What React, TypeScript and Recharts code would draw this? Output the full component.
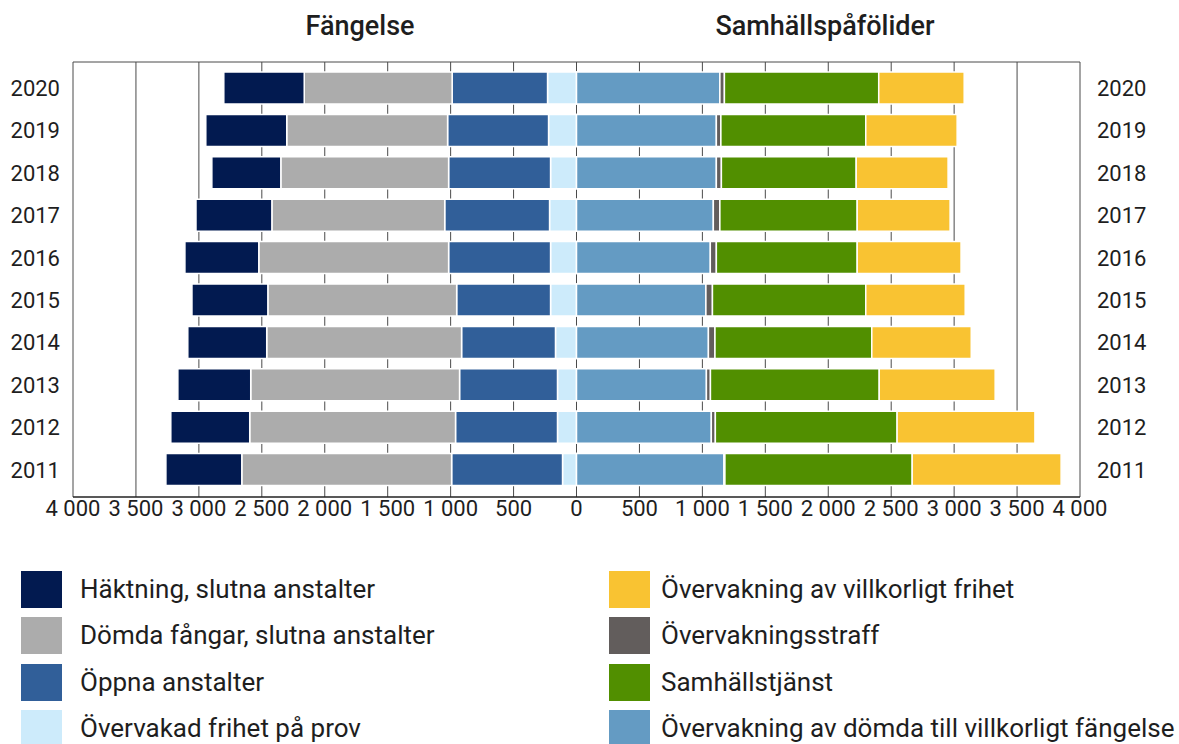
import { BarChart, Bar, XAxis, YAxis, CartesianGrid } from "recharts";

const years = ["2020", "2019", "2018", "2017", "2016", "2015", "2014", "2013", "2012", "2011"];

// Fängelse (drawn to the left)
const overvakadFrihet = [230, 222, 206, 214, 206, 206, 167, 151, 151, 111];
const oppnaAnstalter = [758, 802, 810, 833, 810, 746, 746, 778, 810, 881];
const domdaFangar = [1175, 1278, 1333, 1373, 1508, 1500, 1548, 1659, 1635, 1667];
const haktning = [639, 643, 548, 603, 587, 603, 627, 579, 627, 603];

// Samhällspåföljder (drawn to the right)
const villkorligtFangelse = [1139, 1111, 1111, 1087, 1063, 1028, 1048, 1032, 1071, 1171];
const overvakningsstraff = [36, 36, 40, 52, 48, 52, 52, 32, 32, 8];
const samhallstjanst = [1226, 1151, 1071, 1091, 1119, 1218, 1246, 1341, 1444, 1488];
const villkorligtFrihet = [679, 726, 730, 738, 825, 790, 790, 921, 1095, 1183];

const xTicks = [-4000, -3500, -3000, -2500, -2000, -1500, -1000, -500, 0, 500, 1000, 1500, 2000, 2500, 3000, 3500, 4000];

const COLORS = {
    haktning: "#021a50",
    domda: "#acacac",
    oppna: "#315f99",
    frihetProv: "#cdebfb",
    villkorligtFangelse: "#649bc3",
    straff: "#625d5c",
    samhall: "#518f00",
    villkorligtFrihet: "#f9c332",
};

const data = years.map((year, i) => ({
    year,
    frihetProv: -overvakadFrihet[i],
    oppna: -oppnaAnstalter[i],
    domda: -domdaFangar[i],
    haktning: -haktning[i],
    villkorligtFangelse: villkorligtFangelse[i],
    straff: overvakningsstraff[i],
    samhall: samhallstjanst[i],
    villkorligtFrihet: villkorligtFrihet[i],
}));

const leftLegend = [
    { name: "Häktning, slutna anstalter", color: COLORS.haktning },
    { name: "Dömda fångar, slutna anstalter", color: COLORS.domda },
    { name: "Öppna anstalter", color: COLORS.oppna },
    { name: "Övervakad frihet på prov", color: COLORS.frihetProv },
];
const rightLegend = [
    { name: "Övervakning av villkorligt frihet", color: COLORS.villkorligtFrihet },
    { name: "Övervakningsstraff", color: COLORS.straff },
    { name: "Samhällstjänst", color: COLORS.samhall },
    { name: "Övervakning av dömda till villkorligt fängelse", color: COLORS.villkorligtFangelse },
];

const FONT = "Roboto, sans-serif";
const TEXT = "#1e1e1e";

const formatTick = (v: number) => String(Math.abs(v)).replace(/\B(?=(\d{3})+(?!\d))/g, " ");

function LegendColumn({ items, left, textLeft }: { items: { name: string; color: string }[]; left: number; textLeft: number }) {
    return (
        <>
            {items.map((item, i) => (
                <div key={item.name}>
                    <div
                        style={{
                            position: "absolute",
                            left,
                            top: 571 + i * 46.3,
                            width: 41,
                            height: 37,
                            background: item.color,
                        }}
                    />
                    <div
                        style={{
                            position: "absolute",
                            left: textLeft,
                            top: 571 + i * 46.3,
                            height: 37,
                            lineHeight: "37px",
                            fontSize: 26,
                            color: TEXT,
                            whiteSpace: "nowrap",
                        }}
                    >
                        {item.name}
                    </div>
                </div>
            ))}
        </>
    );
}

export default function App() {
    const barProps = { stackId: "a", yAxisId: "left", isAnimationActive: false, stroke: "#fff", strokeWidth: 1.5, barSize: 32 };
    const titleStyle = { position: "absolute" as const, top: 13, textAlign: "center" as const, fontSize: 27, fontWeight: 500, lineHeight: "27px", color: TEXT };
    return (
        <div style={{ position: "absolute", left: 0, top: 0, width: 1179, height: 744, background: "#fff", fontFamily: FONT, overflow: "hidden" }}>
            <div style={{ ...titleStyle, left: 260, width: 200 }}>Fängelse</div>
            <div style={{ ...titleStyle, left: 675, width: 300 }}>Samhällspåfölider</div>

            <div style={{ position: "absolute", left: 0, top: 0 }}>
                <BarChart
                    width={1179}
                    height={537}
                    data={data}
                    layout="vertical"
                    stackOffset="sign"
                    barCategoryGap={0}
                    margin={{ top: 62, right: 0, bottom: 0, left: 0 }}
                >
                    <CartesianGrid stroke="#4a4a4a" strokeWidth={1} horizontalPoints={[62]} />
                    <XAxis
                        type="number"
                        domain={[-4000, 4000]}
                        ticks={xTicks}
                        interval={0}
                        tickFormatter={formatTick}
                        height={40}
                        tickSize={0}
                        tickMargin={3}
                        axisLine={{ stroke: "#222", strokeWidth: 1.5 }}
                        tick={{ fill: TEXT, fontSize: 22, fontFamily: FONT }}
                    />
                    <YAxis
                        yAxisId="left"
                        type="category"
                        dataKey="year"
                        width={73}
                        tickSize={0}
                        tickMargin={13}
                        axisLine={false}
                        padding={{ top: 5, bottom: 6 }}
                        tick={{ fill: TEXT, fontSize: 22, fontFamily: FONT }}
                    />
                    <YAxis
                        yAxisId="right"
                        orientation="right"
                        type="category"
                        dataKey="year"
                        width={99}
                        tickSize={0}
                        tickMargin={17}
                        axisLine={false}
                        padding={{ top: 5, bottom: 6 }}
                        tick={{ fill: TEXT, fontSize: 22, fontFamily: FONT }}
                    />
                    <Bar dataKey="frihetProv" fill={COLORS.frihetProv} {...barProps} />
                    <Bar dataKey="oppna" fill={COLORS.oppna} {...barProps} />
                    <Bar dataKey="domda" fill={COLORS.domda} {...barProps} />
                    <Bar dataKey="haktning" fill={COLORS.haktning} {...barProps} />
                    <Bar dataKey="villkorligtFangelse" fill={COLORS.villkorligtFangelse} {...barProps} />
                    <Bar dataKey="straff" fill={COLORS.straff} {...barProps} />
                    <Bar dataKey="samhall" fill={COLORS.samhall} {...barProps} />
                    <Bar dataKey="villkorligtFrihet" fill={COLORS.villkorligtFrihet} {...barProps} />
                </BarChart>
            </div>

            <LegendColumn items={leftLegend} left={21} textLeft={80} />
            <LegendColumn items={rightLegend} left={609} textLeft={661} />
        </div>
    );
}
